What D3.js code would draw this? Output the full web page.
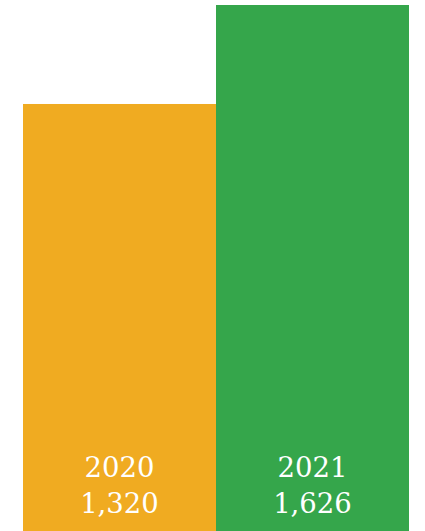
<!DOCTYPE html>
<html><head><meta charset="utf-8">
<script src="https://cdn.jsdelivr.net/npm/d3@7"></script>
<style>html,body{margin:0;padding:0;background:#fff;}svg{display:block;}</style>
</head><body>
<svg id="chart" width="425" height="531"></svg>
<script>
const years = ["2020", "2021"];
const values = [1320, 1626];
const colors = ["#F0AB21", "#35A64B"];

const svg = d3.select("#chart");
const W = 425, H = 531;
const x = d3.scaleBand().domain(years).range([23, 409]).padding(0);
const y = d3.scaleLinear().domain([0, 1626]).range([H, 5]);
const data = years.map((yr, i) => ({year: yr, value: values[i], color: colors[i]}));

svg.selectAll("rect.bar").data(data).join("rect")
  .attr("class", "bar")
  .attr("x", d => x(d.year))
  .attr("y", d => y(d.value))
  .attr("width", x.bandwidth())
  .attr("height", d => H - y(d.value))
  .attr("fill", d => d.color);

const fmt = d3.format(",");
const g = svg.selectAll("g.lab").data(data).join("g").attr("class", "lab");
g.append("text")
  .attr("x", d => x(d.year) + x.bandwidth() / 2)
  .attr("y", 477)
  .attr("text-anchor", "middle")
  .attr("fill", "#fff")
  .style("font-family", "'DejaVu Serif', serif")
  .style("font-size", "27.5px")
  .text(d => d.year);
g.append("text")
  .attr("x", d => x(d.year) + x.bandwidth() / 2)
  .attr("y", 513)
  .attr("text-anchor", "middle")
  .attr("fill", "#fff")
  .style("font-family", "'DejaVu Serif', serif")
  .style("font-size", "27.5px")
  .text(d => fmt(d.value));
</script>
</body></html>
